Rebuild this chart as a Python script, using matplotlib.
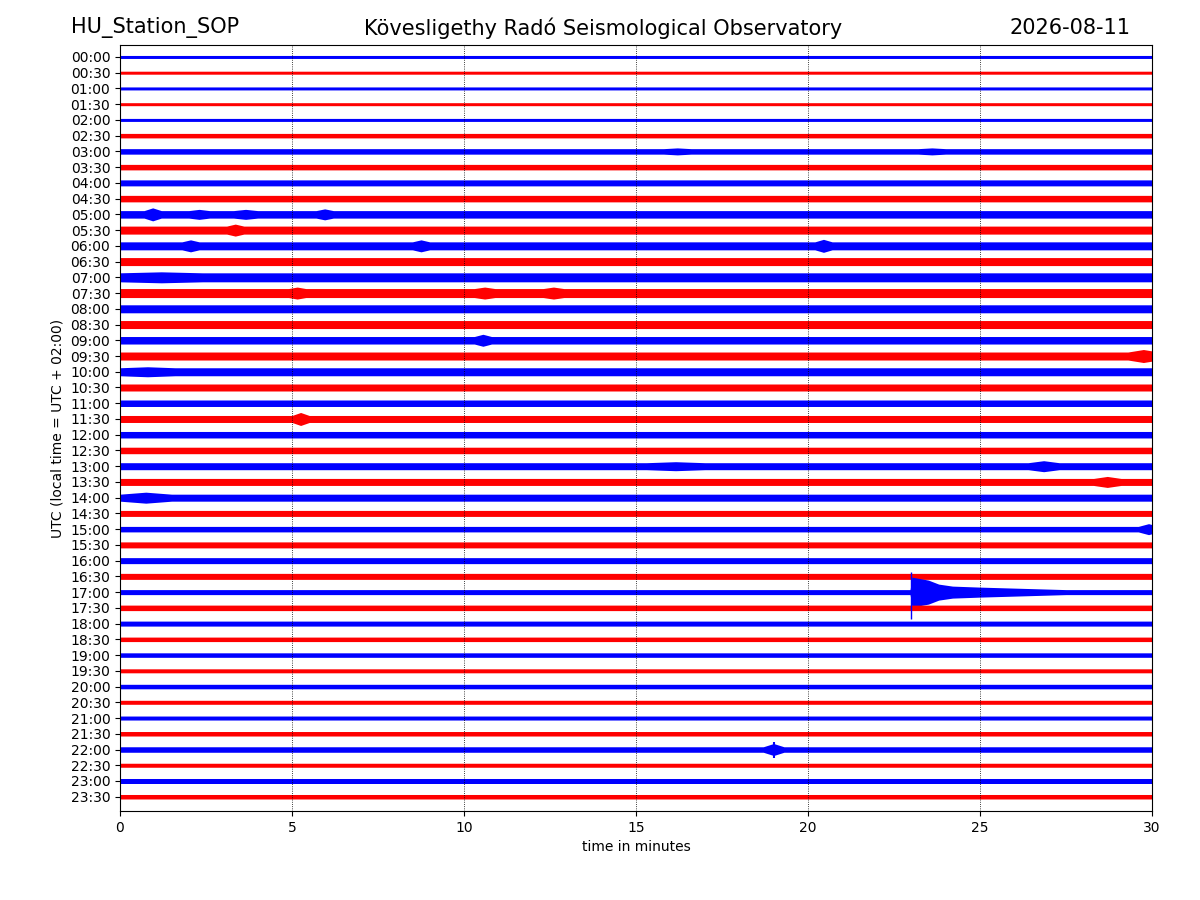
import numpy as np
import matplotlib
matplotlib.use("Agg")
import matplotlib.pyplot as plt

## Data

# row labels (start of each 30 minute line, UTC)
rows = ["%02d:%02d" % (h, m) for h in range(24) for m in (0, 30)]

# typical trace thickness on each row (counts)
base_amp = [3, 3, 3, 3, 3, 4.5, 5.5, 5.5, 6, 6.5,
            7.5, 8, 8, 8, 9, 9, 8, 8, 7.5, 8,
            8, 7, 6.5, 7, 6.5, 6.5, 7, 7, 7, 6,
            5.5, 6, 6, 6, 5, 5.5, 5, 4.5, 4.5, 4,
            4.5, 4, 4, 4.5, 5.5, 4, 5, 4.5]

# louder bursts: row, start minute, end minute, peak thickness
burst_row = ["03:00", "03:00", "05:00", "05:00", "05:00", "05:00", "05:30",
             "06:00", "06:00", "06:00", "07:00", "07:30", "07:30", "07:30",
             "09:00", "09:30", "10:00", "11:30", "13:00", "13:00", "13:30",
             "14:00", "15:00", "22:00"]
burst_start = [15.8, 23.2, 0.7, 2.0, 3.3, 5.7, 3.1,
               1.8, 8.5, 20.2, 0.0, 4.9, 10.3, 12.3,
               10.3, 29.3, 0.0, 5.0, 15.3, 26.4, 28.3,
               0.0, 29.6, 18.7]
burst_end = [16.6, 24.0, 1.2, 2.6, 4.0, 6.2, 3.6,
             2.3, 9.0, 20.7, 2.4, 5.4, 10.9, 12.9,
             10.8, 30.2, 1.6, 5.5, 17.0, 27.3, 29.1,
             1.5, 30.2, 19.3]
burst_amp = [7, 7, 13, 10, 10, 11, 12,
             12, 12, 13, 11, 12, 12, 12,
             12, 13, 10, 13, 9, 11, 11,
             11, 11, 12]

# local earthquake on the 17:00 line: envelope (minute, thickness)
quake_row = "17:00"
quake_t = [22.97, 23.02, 23.5, 23.8, 24.2, 25.0, 26.0, 27.0, 27.5]
quake_amp = [5, 30, 24, 16, 12, 10, 8, 6, 5]
# first arrival spike (up, down)
quake_spike = [20, 27]
quake_spike_t = 22.98

# spike on the 22:00 line
spike_row = "22:00"
spike_t = 19.0
spike_amp = [8, 8]

## Plot

fig = plt.figure(figsize=(12, 9), dpi=100)
ax = fig.add_axes([0.1, 0.099, 0.86, 0.851])

px = 15.74  # pixels per row at 100 dpi
t = np.linspace(0, 30, 3000)

for i, lab in enumerate(rows):
    color = "blue" if i % 2 == 0 else "red"
    env = np.full_like(t, base_amp[i])
    for r, a, b, amp in zip(burst_row, burst_start, burst_end, burst_amp):
        if r == lab:
            inside = (t >= a) & (t <= b)
            shape = np.interp(t[inside], [a, (a + b) / 2, b],
                              [base_amp[i], amp, base_amp[i]])
            env[inside] = np.maximum(env[inside], shape)
    if lab == quake_row:
        inside = (t >= quake_t[0]) & (t <= quake_t[-1])
        env[inside] = np.maximum(env[inside], np.interp(t[inside], quake_t, quake_amp))
    half = env / 2 / px
    ax.fill_between(t, i - half, i + half, color=color, lw=0)

qi = rows.index(quake_row)
ax.vlines(quake_spike_t, qi - quake_spike[0] / px, qi + quake_spike[1] / px,
          color="blue", lw=1)
si = rows.index(spike_row)
ax.vlines(spike_t, si - spike_amp[0] / px, si + spike_amp[1] / px,
          color="blue", lw=1.5)

ax.set_xlim(0, 30)
ax.set_ylim(47.9, -0.76)
ax.set_xticks(range(0, 31, 5))
ax.set_yticks(range(len(rows)))
ax.set_yticklabels(rows)
ax.grid(axis="x", color="black", linestyle=":", linewidth=0.6)
ax.set_xlabel("time in minutes")
ax.set_ylabel("UTC (local time = UTC + 02:00)")

fig.text(0.059, 0.969, "HU_Station_SOP", fontsize=15, va="center", ha="left")
fig.text(0.503, 0.969, "Kövesligethy Radó Seismological Observatory",
         fontsize=15, va="center", ha="center")
fig.text(0.942, 0.969, "2026-08-11", fontsize=15, va="center", ha="right")

fig.savefig("out.png", dpi=100)
